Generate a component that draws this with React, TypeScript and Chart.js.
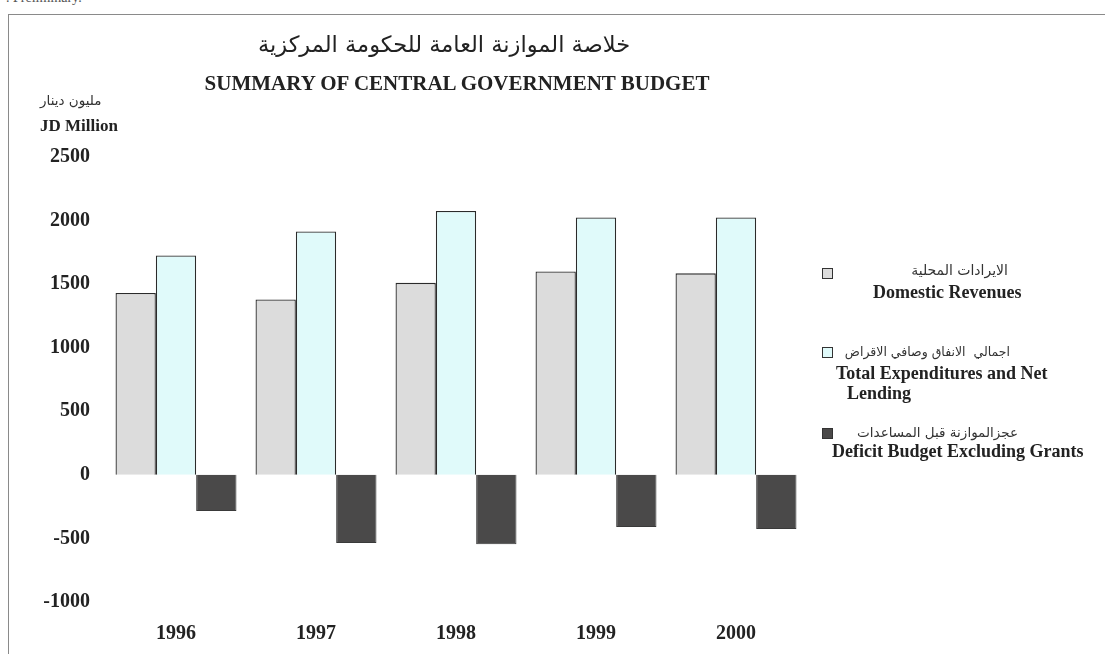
import React, { useEffect, useRef } from "react";
import { Chart, registerables } from "chart.js";

Chart.register(...registerables);

const years = ["1996", "1997", "1998", "1999", "2000"];
const domesticRevenues = [1430, 1380, 1510, 1600, 1585];
const totalExpenditures = [1725, 1915, 2075, 2025, 2025];
const deficitExGrants = [-285, -535, -545, -410, -425];
const yMin = -1000;
const yMax = 2500;
const yStep = 500;

const titleAr = "خلاصة الموازنة العامة للحكومة المركزية";
const titleEn = "SUMMARY OF CENTRAL GOVERNMENT BUDGET";
const unitAr = "مليون دينار";
const unitEn = "JD Million";
const legendAr = ["الايرادات المحلية", "اجمالي  الانفاق وصافي الاقراض", "عجزالموازنة قبل المساعدات"];
const legendEn = [["Domestic Revenues"], ["Total Expenditures and Net", "Lending"], ["Deficit Budget Excluding Grants"]];
const colors = ["#dcdcdc", "#e0fafa", "#4a4949"];

const SERIF = "'Liberation Serif', 'Times New Roman', serif";
const ARABIC = "'DejaVu Sans', sans-serif";

// legend layout (pixel positions)
const boxTop = [268, 347, 428];
const arCenterY = [270, 352, 432];
const arRight = [1008, 1010, 1018];
const arSize = [14, 12.5, 13.5];
const enCenterY = [[292], [373, 393], [451]];
const enLeft = [[873], [836, 847], [832]];

export default function App() {
  const ref = useRef<HTMLCanvasElement | null>(null);

  useEffect(() => {
    document.body.style.margin = "0";
    const canvas = ref.current!;
    const chart = new Chart(canvas, {
      type: "bar",
      data: {
        labels: years,
        datasets: [
          {
            label: "Domestic Revenues",
            data: domesticRevenues,
            backgroundColor: colors[0],
            borderColor: "#2b2b2b",
            borderWidth: 1.3,
          },
          {
            label: "Total Expenditures and Net Lending",
            data: totalExpenditures,
            backgroundColor: colors[1],
            borderColor: "#2b2b2b",
            borderWidth: 1.3,
          },
          {
            label: "Deficit Budget Excluding Grants",
            data: deficitExGrants,
            backgroundColor: colors[2],
            borderColor: "#3a3a3a",
            borderWidth: 1,
          },
        ],
      },
      options: {
        animation: false,
        responsive: false,
        devicePixelRatio: 1,
        layout: { padding: { top: 157, right: 299, bottom: 0, left: 0 } },
        plugins: { legend: { display: false }, tooltip: { enabled: false } },
        datasets: { bar: { categoryPercentage: 0.864, barPercentage: 1 } },
        scales: {
          x: {
            grid: { display: false, drawTicks: false },
            border: { display: false },
            ticks: {
              color: "#222",
              padding: 20,
              font: { family: SERIF, size: 20, weight: "bold" },
            },
            afterFit: (s: any) => {
              s.height = 52;
            },
          },
          y: {
            min: yMin,
            max: yMax,
            grid: { display: false, drawTicks: false },
            border: { display: false },
            ticks: {
              stepSize: yStep,
              color: "#222",
              padding: 16,
              font: { family: SERIF, size: 20, weight: "bold" },
              callback: (v: any) => String(v),
            },
            afterFit: (s: any) => {
              s.width = 106;
            },
          },
        },
      },
    });
    return () => chart.destroy();
  }, []);

  const abs = (extra: React.CSSProperties): React.CSSProperties => ({
    position: "absolute",
    whiteSpace: "nowrap",
    color: "#222",
    lineHeight: "24px",
    ...extra,
  });

  return (
    <div style={{ position: "relative", width: 1105, height: 654, overflow: "hidden", background: "#fff" }}>
      <div style={abs({ left: 6, top: -14, fontFamily: SERIF, fontSize: 14, color: "#555" })}>. Preliminary.</div>
      <div style={{ position: "absolute", left: 8, top: 14, width: 1120, height: 700, borderTop: "1.5px solid #8a8a8a", borderLeft: "1.5px solid #8a8a8a" }} />
      <canvas ref={ref} width={1105} height={654} style={{ position: "absolute", left: 0, top: 0 }} />
      <div style={abs({ left: 244, width: 400, top: 32, textAlign: "center", fontFamily: ARABIC, fontSize: 22.5, direction: "rtl" })}>{titleAr}</div>
      <div style={abs({ left: 157, width: 600, top: 71, textAlign: "center", fontFamily: SERIF, fontSize: 21, fontWeight: "bold" })}>{titleEn}</div>
      <div style={abs({ left: 40, top: 88, fontFamily: ARABIC, fontSize: 13.5, direction: "rtl", color: "#333" })}>{unitAr}</div>
      <div style={abs({ left: 40, top: 114, fontFamily: SERIF, fontSize: 17, fontWeight: "bold" })}>{unitEn}</div>
      {legendAr.map((ar, i) => (
        <React.Fragment key={i}>
          <div style={{ position: "absolute", left: 822, top: boxTop[i], width: 9, height: 9, background: colors[i], border: "1px solid #333" }} />
          <div
            style={abs({
              right: 1105 - arRight[i],
              top: arCenterY[i] - 12,
              fontFamily: ARABIC,
              fontSize: arSize[i],
              direction: "rtl",
              textAlign: "right",
              color: "#333",
              whiteSpace: "pre",
            })}
          >
            {ar}
          </div>
          {legendEn[i].map((line, j) => (
            <div
              key={j}
              style={abs({
                left: enLeft[i][j],
                top: enCenterY[i][j] - 12,
                fontFamily: SERIF,
                fontSize: 18,
                fontWeight: "bold",
              })}
            >
              {line}
            </div>
          ))}
        </React.Fragment>
      ))}
    </div>
  );
}
